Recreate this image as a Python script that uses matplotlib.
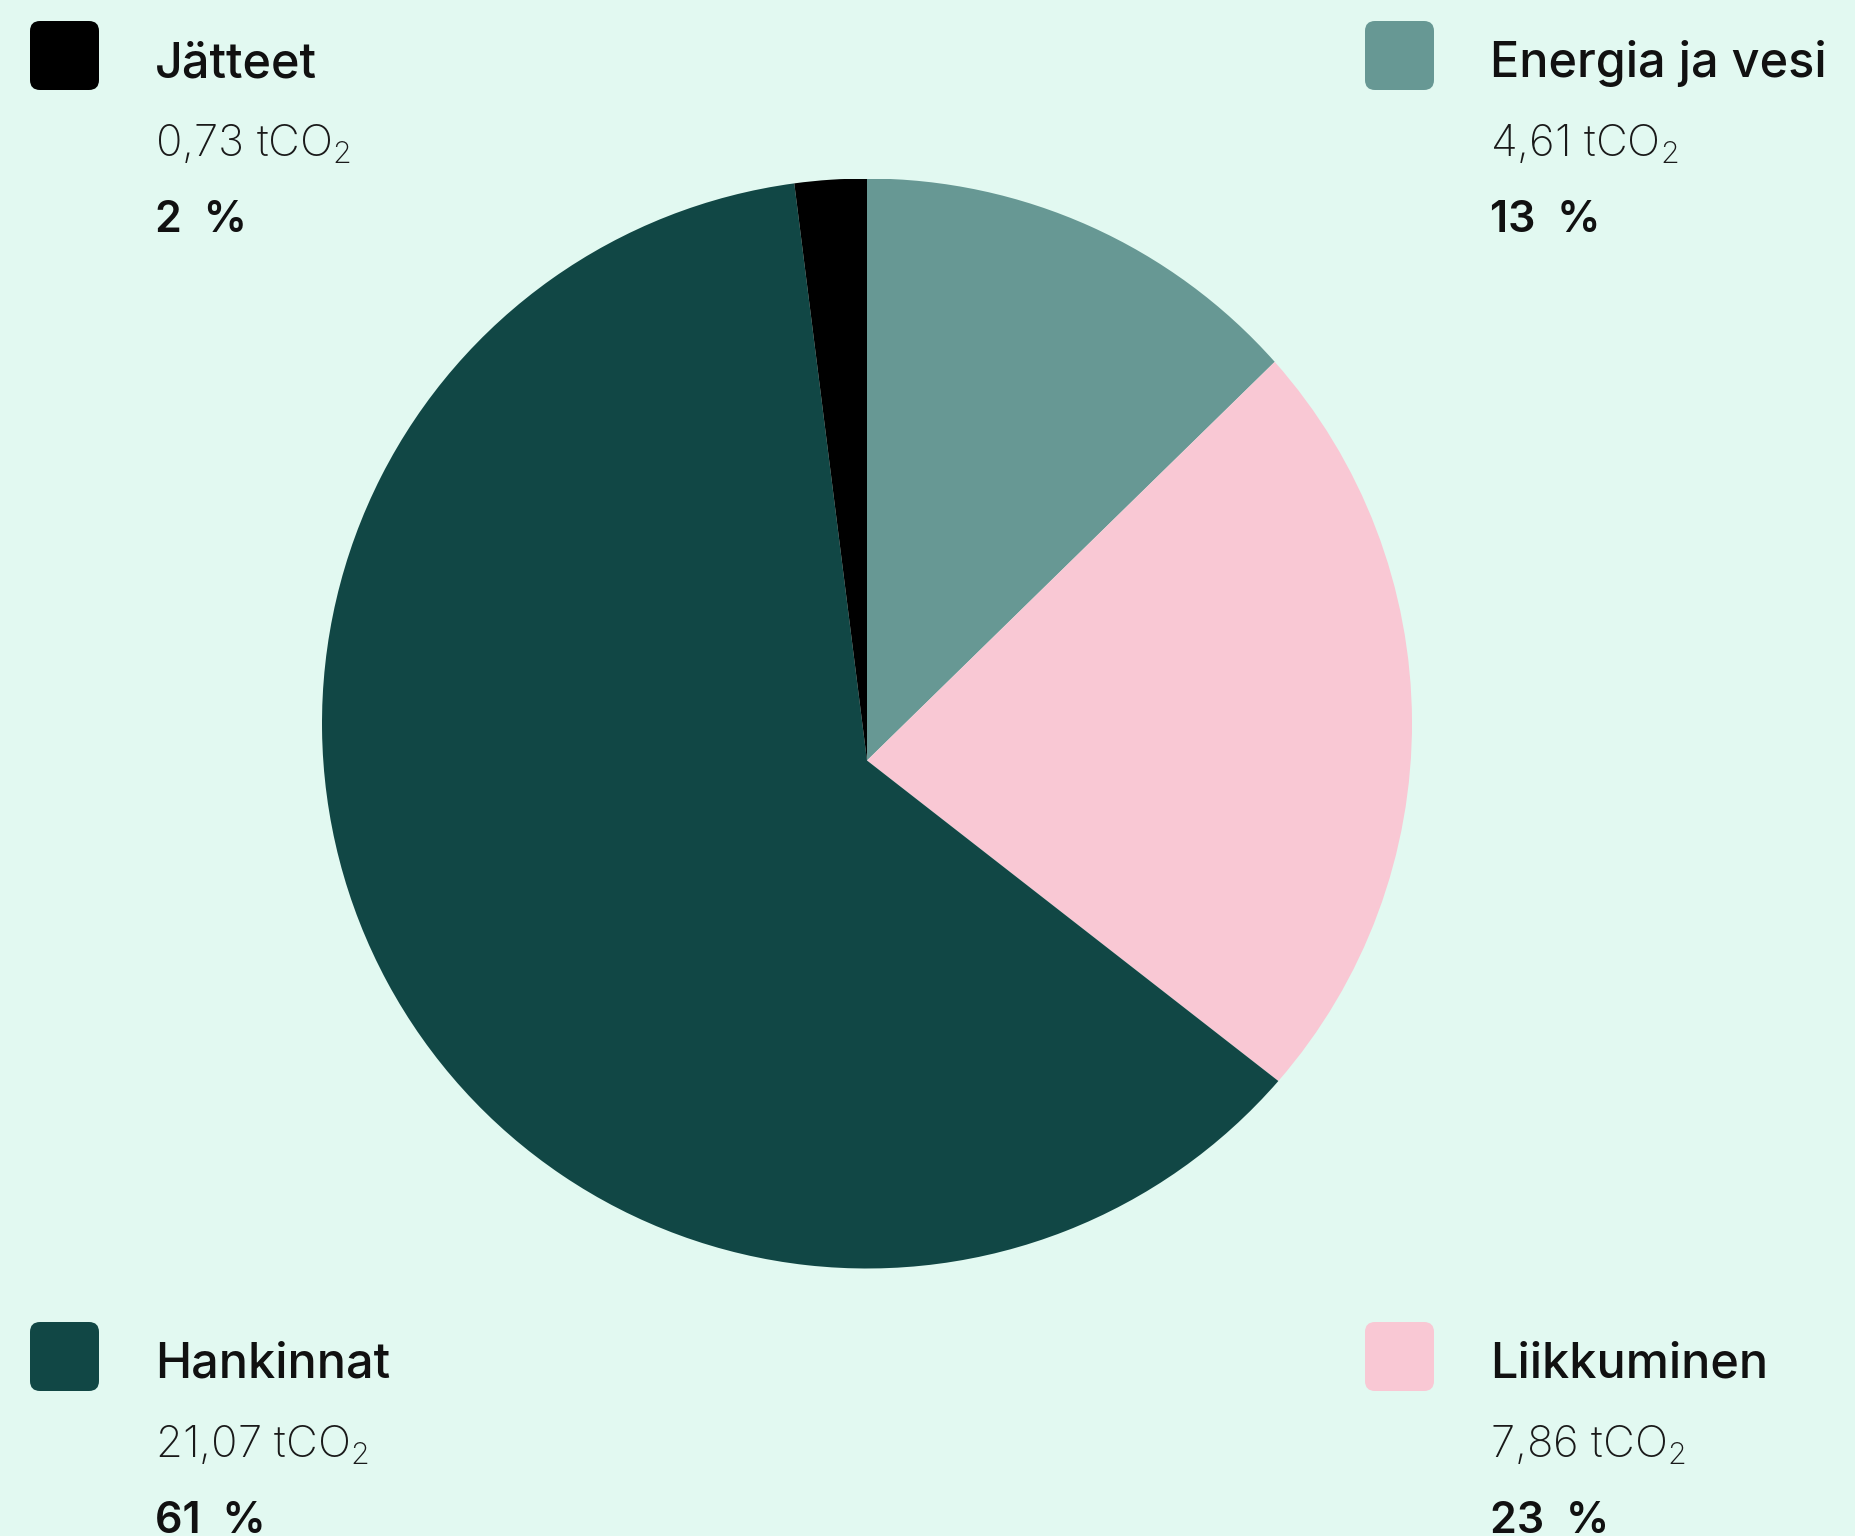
import numpy as np
import matplotlib
matplotlib.use("Agg")
import matplotlib.pyplot as plt
from matplotlib.patches import FancyBboxPatch, PathPatch
from matplotlib.path import Path

# ---- data ----
categories = ["Energia ja vesi", "Liikkuminen", "Hankinnat", "Jätteet"]
values = [4.61, 7.86, 21.07, 0.73]
value_labels = ["4,61", "7,86", "21,07", "0,73"]
pct_labels = ["13", "23", "61", "2"]
colors = ["#679894", "#F9C8D4", "#114745", "#000000"]

BG = "#E2F9F1"
plt.rcParams["mathtext.default"] = "regular"

W, H = 1856, 1536
fig = plt.figure(figsize=(W / 100, H / 100), dpi=100)
fig.patch.set_facecolor(BG)

# ---- pie ----
cx, cy, R = 867, 723.5, 545
ax = fig.add_axes([(cx - R) / W, (H - cy - R) / H, 2 * R / W, 2 * R / H])
ax.set_facecolor(BG)
wedges, _ = ax.pie(values, colors=colors, startangle=90, counterclock=False,
                   radius=1, wedgeprops=dict(linewidth=0))
# the original joins the slices at a point slightly below the circle centre
apex = np.array([0.0, -37 / R])
for w in wedges:
    p = w.get_path()
    verts = p.vertices.copy()
    near = np.linalg.norm(verts - np.array(w.center), axis=1) < 1e-9
    verts[near] = apex
    w.set_visible(False)
    ax.add_patch(PathPatch(Path(verts, p.codes), facecolor=w.get_facecolor(),
                           linewidth=0, antialiased=True))
ax.set_xlim(-1, 1)
ax.set_ylim(-1, 1)
ax.set_aspect("equal")
ax.axis("off")

# ---- legend blocks ----
ov = fig.add_axes([0, 0, 1, 1])
ov.set_xlim(0, W)
ov.set_ylim(H, 0)
ov.axis("off")
ov.patch.set_alpha(0)

fam = ["Inter", "DejaVu Sans"]
positions = {  # (square x, square y, text x, name baseline)
    "Jätteet": (30, 21, 155, 77),
    "Energia ja vesi": (1365, 21, 1490, 77),
    "Hankinnat": (30, 1322, 155, 1378),
    "Liikkuminen": (1365, 1322, 1490, 1378),
}
for name, val, pct, col in zip(categories, value_labels, pct_labels, colors):
    sx, sy, tx, tb = positions[name]
    pad = 10
    ov.add_patch(FancyBboxPatch((sx + pad, sy + pad), 69 - 2 * pad, 69 - 2 * pad,
                                boxstyle=f"round,pad={pad},rounding_size=10",
                                facecolor=col, edgecolor="none"))
    ov.text(tx, tb, name, fontsize=35, family=fam, fontweight="medium",
            color="#111111", va="baseline", ha="left")
    ov.text(tx, tb + 80, f"{val} tCO$_2$", fontsize=31.5, family=fam,
            fontweight="light", color="#1a1a1a", va="baseline", ha="left")
    ov.text(tx, tb + 155, f"{pct}  %", fontsize=31, family=fam,
            fontweight="semibold", color="#111111", va="baseline", ha="left")

fig.savefig("out.png", dpi=100, facecolor=BG)
